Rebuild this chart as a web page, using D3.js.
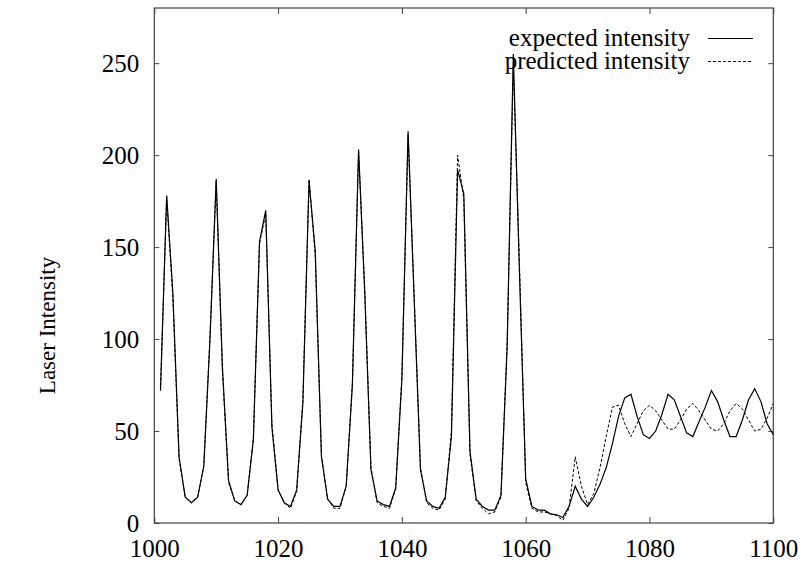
<!DOCTYPE html>
<html>
<head>
<meta charset="utf-8">
<script src="https://cdn.jsdelivr.net/npm/d3@7"></script>
<style>
  body { margin: 0; background: #fff; }
  text { font-family: "Liberation Serif", "Times New Roman", serif; }
</style>
</head>
<body>
<div id="chart"></div>
<script>
// time steps 1001..1100
const steps = d3.range(1001, 1101);

const expected = [
  72, 178, 125, 36, 14, 11, 14, 31, 100, 187,
  85, 23, 12, 10, 15, 45, 153, 170, 52, 18,
  11, 9, 18, 65, 186, 148, 36, 13, 9, 9,
  20, 75, 203, 125, 29, 12, 10, 9, 19, 78,
  213, 120, 29, 12, 9, 8, 14, 47, 192, 179,
  39, 13, 9, 7, 7, 15, 95, 255, 135, 24,
  9, 7, 7, 5, 4.5, 3, 9, 20, 13, 9,
  14, 21, 30, 43, 58, 68, 70, 58, 48, 46,
  50, 59, 70, 67, 58, 49, 47, 55, 63, 72,
  66, 56, 47, 47, 56, 67, 73, 66, 54, 48
];

const predicted = [
  72, 177, 122, 35, 14, 11, 14, 31, 102, 186,
  83, 22, 12, 10, 15, 46, 152, 168, 54, 18,
  11, 8, 17, 67, 187, 145, 37, 13, 8, 8,
  20, 76, 202, 127, 30, 11, 9, 8, 19, 80,
  211, 122, 30, 11, 8, 7, 13, 50, 200, 176,
  37, 12, 8, 5, 6, 14, 98, 248, 140, 22,
  8, 6, 6, 5, 4, 1.5, 8, 36, 20, 10,
  16, 30, 47, 63, 64, 54, 47, 54, 61, 64,
  61, 56, 51, 51, 56, 62, 65, 61, 56, 51,
  50, 54, 61, 65, 62, 56, 50, 51, 57, 65
];

const xTicks = [1000, 1020, 1040, 1060, 1080, 1100];
const yTicks = [0, 50, 100, 150, 200, 250];
const seriesNames = ["expected intensity", "predicted intensity"];
const yTitle = "Laser Intensity";

const dims = { width: 812, height: 563, left: 154.3, right: 773.3, top: 8, bottom: 523 };

const svg = d3.select("#chart").append("svg")
  .attr("width", dims.width)
  .attr("height", dims.height);

const x = d3.scaleLinear().domain([1000, 1100]).range([dims.left, dims.right]);
const y = d3.scaleLinear().domain([0, 280]).range([dims.bottom, dims.top]);

const axisColour = "#444";

function styleAxis(g, showLabels) {
  g.select(".domain").remove();
  g.selectAll(".tick line").attr("stroke", axisColour).attr("stroke-width", 1);
  if (!showLabels) g.selectAll(".tick text").remove();
  else g.selectAll(".tick text").attr("fill", "#000").style("font-size", "25px");
}

// bottom / top
svg.append("g").attr("transform", `translate(0,${dims.bottom})`)
  .call(d3.axisBottom(x).tickValues(xTicks).tickSize(-6).tickPadding(16).tickFormat(d3.format("d")))
  .call(g => styleAxis(g, true));
svg.append("g").attr("transform", `translate(0,${dims.top})`)
  .call(d3.axisTop(x).tickValues(xTicks).tickSize(-6))
  .call(g => styleAxis(g, false));

// left / right
svg.append("g").attr("transform", `translate(${dims.left},0)`)
  .call(d3.axisLeft(y).tickValues(yTicks).tickSize(-5).tickPadding(15))
  .call(g => styleAxis(g, true));
svg.append("g").attr("transform", `translate(${dims.right},0)`)
  .call(d3.axisRight(y).tickValues(yTicks).tickSize(-5))
  .call(g => styleAxis(g, false));

svg.append("rect")
  .attr("x", dims.left).attr("y", dims.top)
  .attr("width", dims.right - dims.left).attr("height", dims.bottom - dims.top)
  .attr("fill", "none").attr("stroke", axisColour).attr("stroke-width", 1.2);

svg.append("text")
  .attr("transform", `translate(55,${(dims.top + dims.bottom) / 2 + 60}) rotate(-90)`)
  .attr("text-anchor", "middle")
  .style("font-size", "23px")
  .text(yTitle);

const line = d3.line()
  .x((d, i) => x(steps[i]))
  .y(d => y(d));

svg.append("path")
  .datum(predicted)
  .attr("d", line)
  .attr("fill", "none")
  .attr("stroke", "#000")
  .attr("stroke-width", 1)
  .attr("stroke-dasharray", "3,2");

svg.append("path")
  .datum(expected)
  .attr("d", line)
  .attr("fill", "none")
  .attr("stroke", "#000")
  .attr("stroke-width", 1.2);

// legend
const legend = svg.append("g");
seriesNames.forEach((name, i) => {
  const by = 46 + i * 23;
  legend.append("text")
    .attr("x", 690).attr("y", by)
    .attr("text-anchor", "end")
    .style("font-size", "25px")
    .text(name);
  legend.append("line")
    .attr("x1", 708).attr("x2", 753)
    .attr("y1", by - 7.5).attr("y2", by - 7.5)
    .attr("stroke", "#000")
    .attr("stroke-width", i == 0 ? 1.2 : 1)
    .attr("stroke-dasharray", i == 0 ? null : "3,2");
});
</script>
</body>
</html>
